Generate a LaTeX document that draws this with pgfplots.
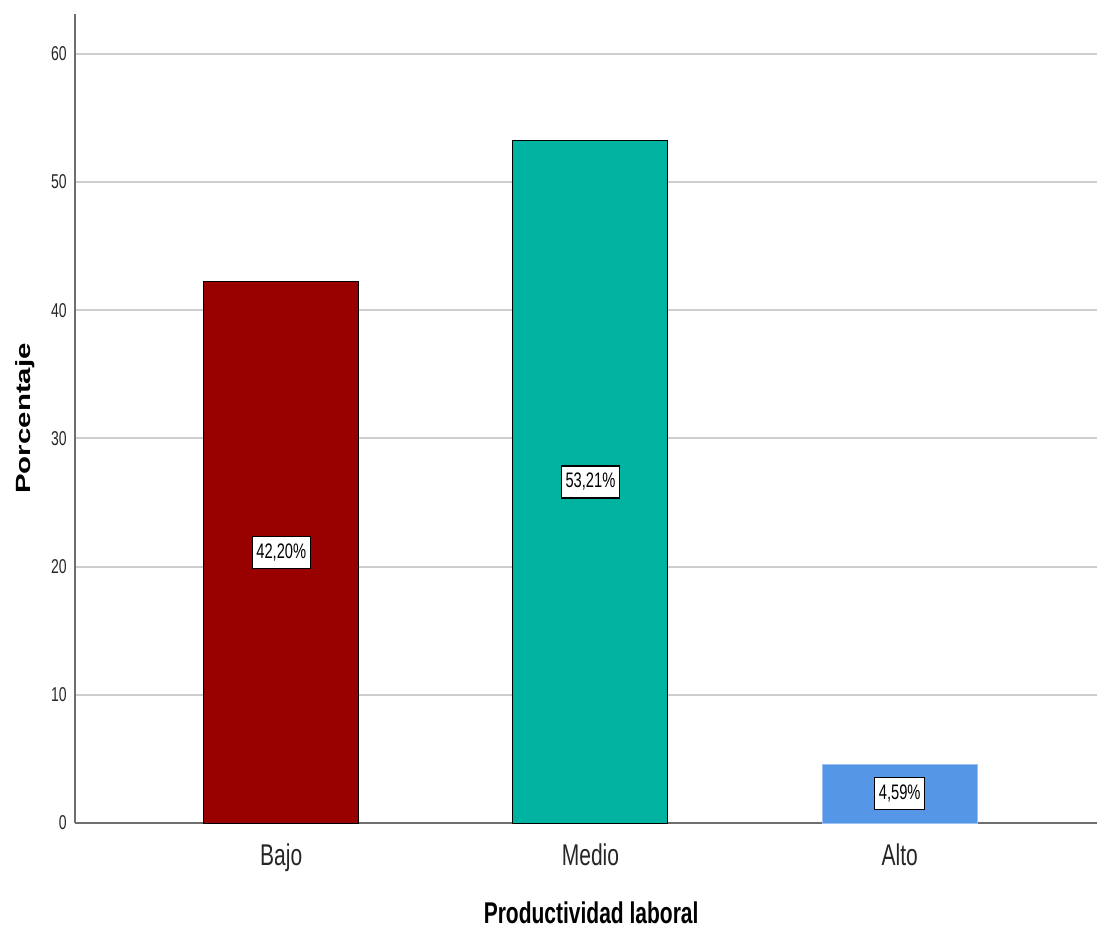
\documentclass[border=0pt]{standalone}
\usepackage{fontspec}
\setmainfont{Liberation Sans}[FakeStretch=0.7]
\newfontfamily\plainfont{Liberation Sans}
\usepackage{graphicx}
\usepackage{pgfplots}
\usepackage{pgfplotstable}
\pgfplotsset{compat=1.18}
\definecolor{cBajo}{RGB}{153,0,0}
\definecolor{cMedio}{RGB}{0,178,160}
\definecolor{cAlto}{RGB}{85,150,230}
\definecolor{gridc}{RGB}{205,205,205}
\definecolor{axc}{RGB}{110,110,110}

\pgfplotstableread{
x y
0 42.20
1 53.21
2 4.59
}\datatab

\begin{document}
\begin{tikzpicture}
\useasboundingbox (-37.5pt,-52pt) rectangle (511pt,411.5pt);
\begin{axis}[
  scale only axis, width=511pt, height=404.5pt,
  xmin=-0.667, xmax=2.638, ymin=0, ymax=63.1,
  axis lines*=left,
  axis line style={draw=axc, line width=1pt, -},
  xtick={0,1,2}, xticklabels={Bajo,Medio,Alto},
  ytick={0,10,...,60},
  major tick length=0pt,
  ymajorgrids, grid style={gridc, line width=1pt},
  /pgf/number format/assume math mode=true,
  xticklabel style={font=\fontsize{15}{18}\selectfont, anchor=base, yshift=-21pt, text=black!85},
  yticklabel style={font=\fontsize{10}{12}\selectfont, anchor=east, inner sep=0pt, xshift=-4pt, text=black!85},
  xlabel={\bfseries\fontsize{15}{18}\selectfont Productividad laboral},
  xlabel style={at={(axis description cs:0.505,-0.111)}, anchor=center},
  ylabel={\scalebox{1}[0.7]{\plainfont\bfseries\fontsize{14.7}{17}\selectfont Porcentaje}},
  ylabel style={at={(axis description cs:-0.0489,0.5)}, anchor=center},
  clip=false,
]
\addplot[ybar, bar width=77.5pt, fill=cBajo, draw=black, line width=0.5pt, restrict x to domain=-0.1:0.1] table[x=x,y=y]{\datatab};
\addplot[ybar, bar width=77.5pt, fill=cMedio, draw=black, line width=0.5pt, restrict x to domain=0.9:1.1] table[x=x,y=y]{\datatab};
\addplot[ybar, bar width=77.5pt, fill=cAlto, draw=cAlto!60!white, line width=0.5pt, restrict x to domain=1.9:2.1] table[x=x,y=y]{\datatab};
\addplot[draw=none, mark=none,
  point meta=\thisrow{y},
  nodes near coords={\pgfmathprintnumber[fixed,fixed zerofill,precision=2,use comma]{\pgfplotspointmeta}\%},
  every node near coord/.append style={anchor=center, fill=white, draw=black, line width=0.6pt,
    font=\fontsize{10.5}{12}\selectfont, inner xsep=2pt, inner ysep=3.5pt, text height=7.5pt, text depth=1.5pt}]
  table[x=x, y expr=\thisrow{y}/2]{\datatab};
\end{axis}
\end{tikzpicture}
\end{document}
